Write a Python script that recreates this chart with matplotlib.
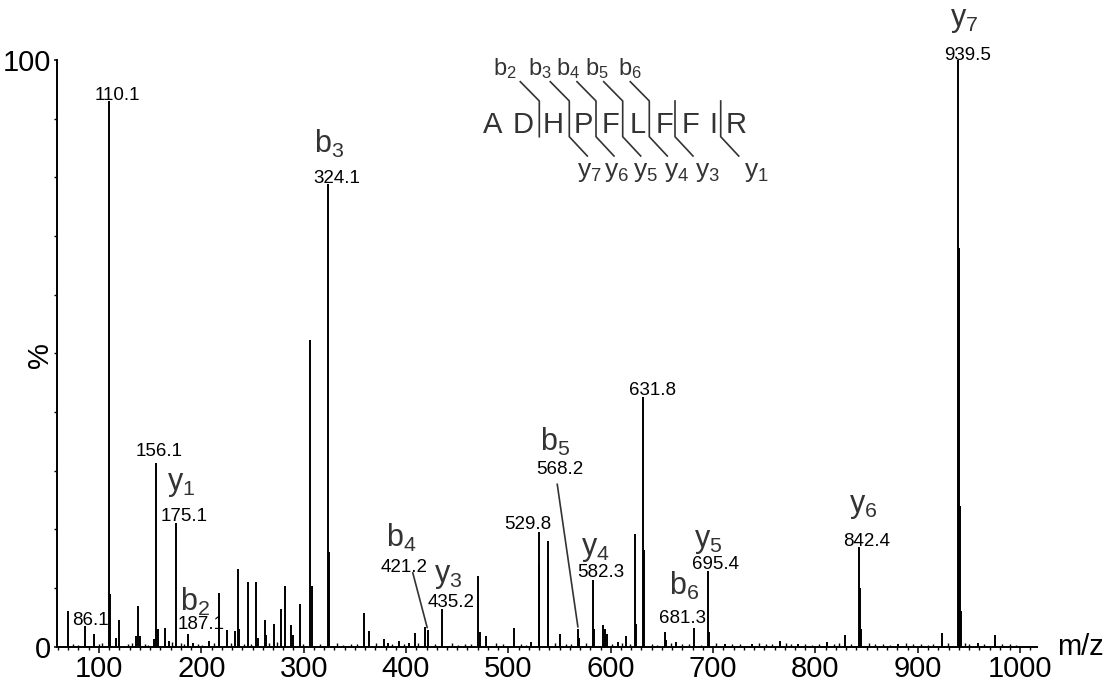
import matplotlib.pyplot as plt
from matplotlib.ticker import MultipleLocator

plt.rcParams['font.family'] = ['Liberation Sans', 'DejaVu Sans']
plt.rcParams['mathtext.fontset'] = 'custom'
plt.rcParams['mathtext.rm'] = 'Liberation Sans'
plt.rcParams['mathtext.it'] = 'Liberation Sans:italic'
plt.rcParams['mathtext.bf'] = 'Liberation Sans:bold'

W, H = 1107, 685
ION_COLOR = '#333333'

# annotated fragment peaks (m/z, relative intensity %)
labeled_mz = [86.1, 110.1, 156.1, 175.1, 187.1, 324.1, 421.2, 435.2,
              529.8, 568.2, 582.3, 631.8, 681.3, 695.4, 842.4, 939.5]
labeled_int = [3.6, 93.0, 31.3, 21.1, 2.2, 78.9, 2.9, 6.5,
               19.6, 3.0, 11.4, 42.5, 3.2, 12.9, 17.0, 100.0]
labeled_ion = ['', '', '', 'y1', 'b2', 'b3', 'b4', 'y3',
               '', 'b5', 'y4', '', 'b6', 'y5', 'y6', 'y7']

# other peaks and isotopes
other_mz = [70.0, 95.2, 111.1, 116.4, 119.9, 136.2, 138.1, 140.1, 153.8, 158.0,
            164.2, 168.1, 192.2, 207.8, 217.3, 225.4, 233.2, 235.5, 236.8, 245.3,
            253.1, 255.4, 261.9, 263.2, 271.0, 278.1, 281.5, 287.9, 289.3, 296.4,
            306.2, 308.1, 325.1, 358.6, 364.1, 378.8, 382.1, 393.4, 403.2, 408.5,
            418.5, 470.6, 472.5, 477.8, 505.5, 521.8, 530.3, 538.6, 539.1, 550.4,
            569.2, 583.3, 592.1, 594.4, 596.6, 606.8, 614.9, 623.7, 624.7, 632.3,
            653.0, 654.0, 663.4, 696.4, 711.6, 737.7, 765.3, 782.9, 810.9, 828.9,
            843.4, 844.4, 880.3, 923.3, 940.5, 941.5, 942.5, 958.5, 975.4]
other_int = [6.1, 2.1, 9.0, 1.5, 4.6, 1.9, 6.9, 1.8, 1.3, 3.0,
             3.2, 1.0, 0.7, 0.9, 9.2, 2.9, 2.6, 13.2, 3.0, 11.1,
             11.0, 1.4, 4.6, 2.0, 3.9, 6.5, 10.4, 3.7, 2.0, 7.3,
             52.2, 10.3, 16.2, 5.8, 2.6, 1.3, 0.7, 0.9, 0.7, 2.3,
             3.4, 12.0, 2.5, 1.8, 3.2, 0.8, 14.0, 18.1, 15.0, 2.2,
             1.5, 3.0, 3.7, 3.0, 2.2, 0.8, 1.9, 19.2, 3.9, 16.4,
             2.5, 1.1, 0.8, 2.5, 0.5, 0.5, 1.0, 0.4, 0.8, 2.0,
             10.0, 3.0, 0.5, 2.4, 68.0, 24.0, 6.0, 0.7, 2.0]

# low-level baseline signals
grass_mz = [75, 80, 100, 103, 128, 132, 145, 148, 171, 180, 183, 197, 201, 212,
            229, 242, 249, 266, 274, 299, 316, 333, 338, 346, 352, 371, 386, 398,
            412, 428, 445, 451, 458, 463, 488, 495, 512, 517, 546, 556, 561, 576,
            601, 611, 619, 640, 645, 659, 670, 676, 688, 703, 718, 726, 745, 752,
            758, 771, 776, 790, 797, 803, 818, 823, 835, 852, 858, 866, 873, 888,
            895, 903, 910, 915, 929, 946, 950, 965, 982, 990, 996]
grass_int = [0.4, 0.3, 0.5, 0.6, 0.4, 0.7, 0.5, 0.3, 0.8, 0.6, 0.4, 0.5, 0.3, 0.6,
             0.7, 0.5, 0.4, 0.6, 0.8, 0.5, 0.4, 0.6, 0.3, 0.5, 0.4, 0.6, 0.4, 0.5,
             0.7, 0.4, 0.6, 0.3, 0.5, 0.4, 0.6, 0.5, 0.4, 0.3, 0.6, 0.5, 0.4, 0.7,
             0.5, 0.6, 0.4, 0.5, 0.3, 0.6, 0.4, 0.5, 0.3, 0.6, 0.4, 0.5, 0.6, 0.4,
             0.5, 0.6, 0.4, 0.5, 0.3, 0.5, 0.4, 0.6, 0.5, 0.6, 0.4, 0.5, 0.3, 0.6,
             0.4, 0.5, 0.3, 0.5, 0.6, 0.7, 0.5, 0.4, 0.5, 0.4, 0.3]

# label offsets in pixels from the peak apex: mass (dx, dy), ion (dx, dy)
label_offsets = {
    '86.1': ((6, 1), None),
    '110.1': ((8, 1), None),
    '156.1': ((3, 7), None),
    '175.1': ((8, 2), (5, 33)),
    '187.1': ((13, 5), (7, 23)),
    '324.1': ((8, 1), (1, 31)),
    '421.2': ((-24, 58), (-26, 83)),
    '435.2': ((9, 2), (6, 27)),
    '529.8': ((-11, 3), None),
    '568.2': ((-18, 155), (-23, 178)),
    '582.3': ((8, 3), (3, 25)),
    '631.8': ((9, 2), None),
    '681.3': ((-11, 5), (-10, 33)),
    '695.4': ((7, 2), (0, 24)),
    '842.4': ((8, 1), (4, 35)),
    '939.5': ((9, 0), (6, 34)),
}
leaders = {'421.2': (-15, 57), '568.2': (-21, 145)}

sequence = list('ADHPFLFFIR')

fig = plt.figure(figsize=(W / 100, H / 100), dpi=100)
ax = fig.add_axes([57.3 / W, 38.3 / H, (1037 - 57.3) / W, 586.7 / H])

ax.vlines(grass_mz, 0, grass_int, color='black', lw=1.0)
ax.vlines(other_mz, 0, other_int, color='black', lw=1.4)
ax.vlines(labeled_mz, 0, labeled_int, color='black', lw=1.4)

for mz, inten, ion in zip(labeled_mz, labeled_int, labeled_ion):
    key = f'{mz:.1f}'
    (mdx, mdy), ion_off = label_offsets[key]
    ax.annotate(key, xy=(mz, inten), xytext=(mdx, mdy), textcoords='offset pixels',
                ha='center', va='baseline', fontsize=13.5, color='black')
    if ion:
        idx, idy = ion_off
        ax.annotate(r'$\mathrm{%s}_{%s}$' % (ion[0], ion[1:]), xy=(mz, inten),
                    xytext=(idx, idy), textcoords='offset pixels',
                    ha='center', va='baseline', fontsize=22, color=ION_COLOR)
    if key in leaders:
        ax.annotate('', xy=(mz, inten), xytext=leaders[key], textcoords='offset pixels',
                    arrowprops=dict(arrowstyle='-', color=ION_COLOR, lw=1.2,
                                    shrinkA=0, shrinkB=1.5))

ax.set_xlim(59.3, 1016.4)
ax.set_ylim(0, 100)
for side in ['top', 'right']:
    ax.spines[side].set_visible(False)
for side in ['left', 'bottom']:
    ax.spines[side].set_linewidth(1.4)

ax.xaxis.set_major_locator(MultipleLocator(100))
ax.xaxis.set_minor_locator(MultipleLocator(10))
ax.set_yticks([0, 100])
ax.set_yticklabels(['0', '100'])
ax.yaxis.set_minor_locator(MultipleLocator(10))
ax.tick_params(axis='x', which='major', direction='out', length=4, width=1.1,
               pad=2, labelsize=21)
ax.tick_params(axis='x', which='minor', direction='out', length=2.5, width=1.0)
ax.tick_params(axis='y', which='major', direction='out', length=2.5, width=1.1,
               pad=2, labelsize=21)
ax.tick_params(axis='y', which='minor', direction='out', length=2.5, width=1.0)

fig.text(1057 / W, 1 - 647 / H, 'm/z', ha='left', va='center', fontsize=21)
fig.text(40 / W, 1 - 355 / H, '%', ha='center', va='center', rotation=90, fontsize=21)


# peptide sequence with fragmentation sites
def fp(x, y):
    return x / W, 1 - y / H


letter_x = [493, 523, 553, 583, 610, 638, 664, 691, 713, 736]
for ch, x in zip(sequence, letter_x):
    fig.text(*fp(x, 133), ch, ha='center', va='baseline', fontsize=21, color=ION_COLOR)

# (divider x, b label, y label)
cuts = [(539.3, 'b2', ''), (569.3, 'b3', 'y7'), (596, 'b4', 'y6'),
        (622.7, 'b5', 'y5'), (649.3, 'b6', 'y4'), (675, '', 'y3'), (720.7, '', 'y1')]
b_label_x = {'b2': 505, 'b3': 540, 'b4': 568, 'b5': 597, 'b6': 630}
y_label_x = {'y7': 589, 'y6': 617, 'y5': 646, 'y4': 676.5, 'y3': 707.5, 'y1': 756}
for xd, b, y in cuts:
    xs, ys = [xd, xd], [101, 136.7]
    if b:
        xs, ys = [xd - 19] + xs, [81.7] + ys
    if y:
        xs, ys = xs + [xd + 18], ys + [156]
    fx, fy = zip(*[fp(a, c) for a, c in zip(xs, ys)])
    fig.add_artist(plt.Line2D(fx, fy, transform=fig.transFigure, color=ION_COLOR, lw=1.2))
    if b:
        fig.text(*fp(b_label_x[b], 75), r'$\mathrm{b}_{%s}$' % b[1:], ha='center',
                 va='baseline', fontsize=17, color=ION_COLOR)
    if y:
        fig.text(*fp(y_label_x[y], 177), r'$\mathrm{y}_{%s}$' % y[1:], ha='center',
                 va='baseline', fontsize=19, color=ION_COLOR)

fig.savefig('out.png', dpi=100)
